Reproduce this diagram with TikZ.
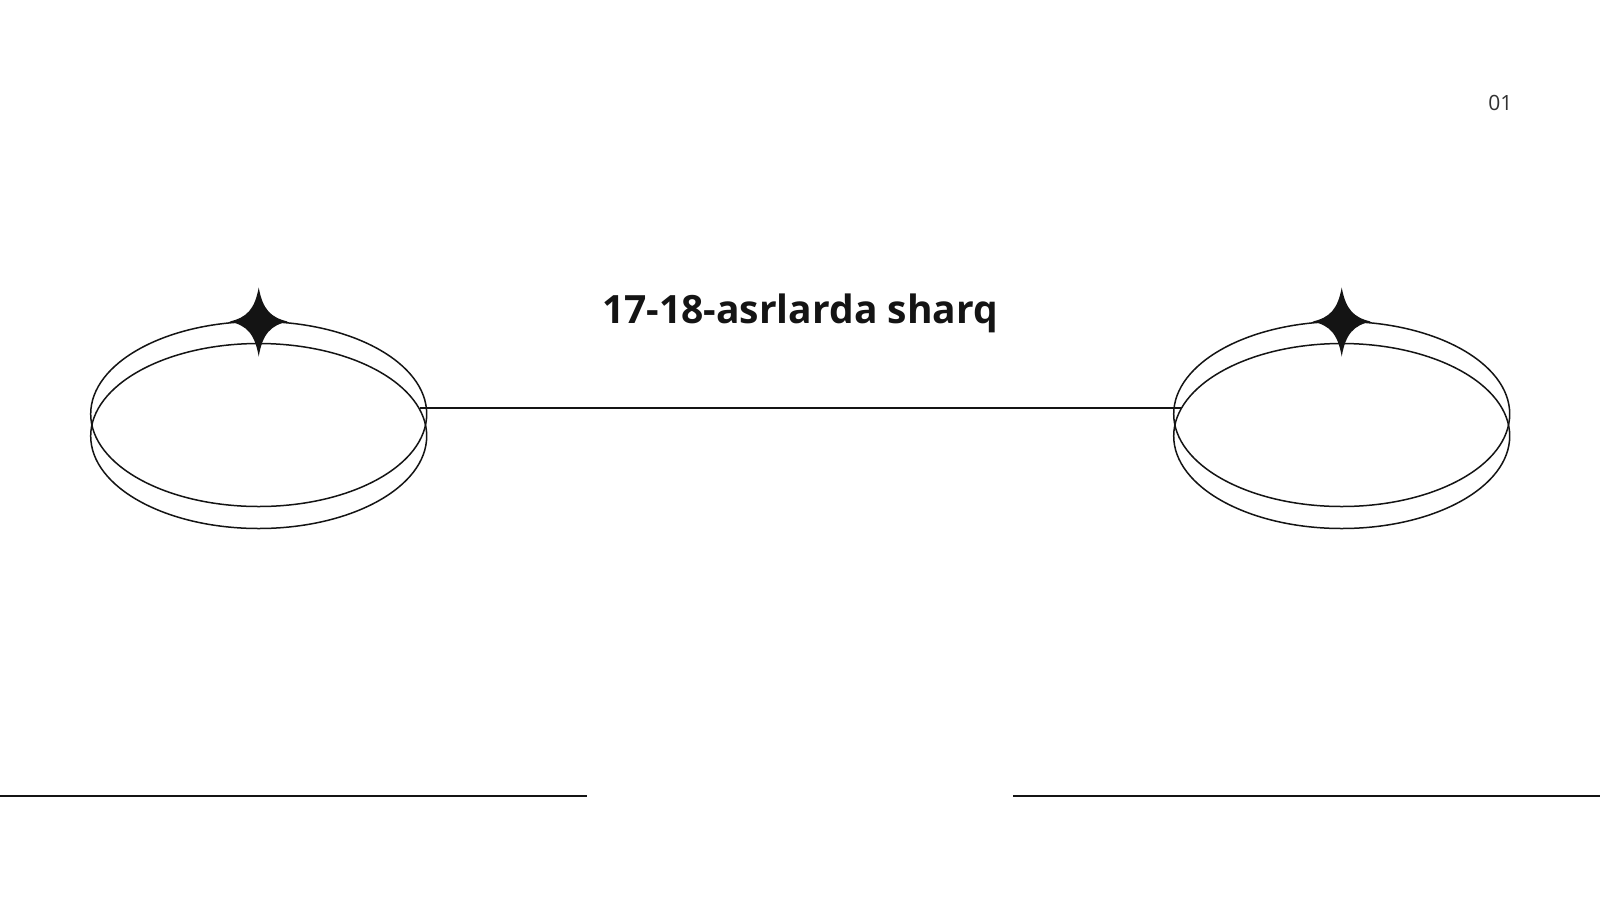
\documentclass[tikz,border=0pt]{standalone}
\usepackage{fontspec}
\setmainfont{Open Sans}
\usepackage{tikz}
\definecolor{ink}{RGB}{20, 20, 20}
\definecolor{numgray}{RGB}{50, 50, 50}
\usetikzlibrary{shapes.geometric}
\tikzset{
  ring/.style={ellipse, minimum width=336pt, minimum height=185pt, inner sep=0pt, outer sep=0pt, line width=1.5pt, draw=ink},
  sparkle/.pic={\fill [ink] (0pt, 34pt) .. controls (4pt, 12pt) and (12pt, 4pt) .. (29pt, 0pt) .. controls (12pt, -4pt) and (4pt, -12pt) .. (0pt, -35pt) .. controls (-4pt, -12pt) and (-12pt, -4pt) .. (-29pt, 0pt) .. controls (-12pt, 4pt) and (-4pt, 12pt) .. cycle;}
}

\begin{document}
\begin{tikzpicture}
\useasboundingbox [fill=white] (0pt, 0pt) rectangle (1600pt, -900pt);
\node (1) [ring] at (258.7pt, -414pt)  {};
\node (2) [ring] at (258.7pt, -436pt)  {};
\node (3) [ring] at (1341.7pt, -414pt)  {};
\node (4) [ring] at (1341.7pt, -436pt)  {};
\pic at (1.north) {sparkle};
\pic at (3.north) {sparkle};
\draw [line width=1.5pt, color=ink] (2.9.9 |- 4.170.1) to (4.170.1);
\node (title) [anchor=base, font=\fontsize{39}{46}\selectfont\bfseries, text=ink] at (800pt, -323pt) {17-18-asrlarda sharq};
\node (num) [anchor=base east, font=\fontsize{21}{25}\selectfont, text=numgray] at (1516pt, -110pt) {01};
\coordinate (bl1) at (0pt, -796pt);
\coordinate (bl2) at (587pt, -796pt);
\coordinate (br1) at (1013pt, -796pt);
\coordinate (br2) at (1600pt, -796pt);
\draw [line width=2pt, color=ink] (bl1) to (bl2);
\draw [line width=2pt, color=ink] (br1) to (br2);
\end{tikzpicture}
\end{document}
